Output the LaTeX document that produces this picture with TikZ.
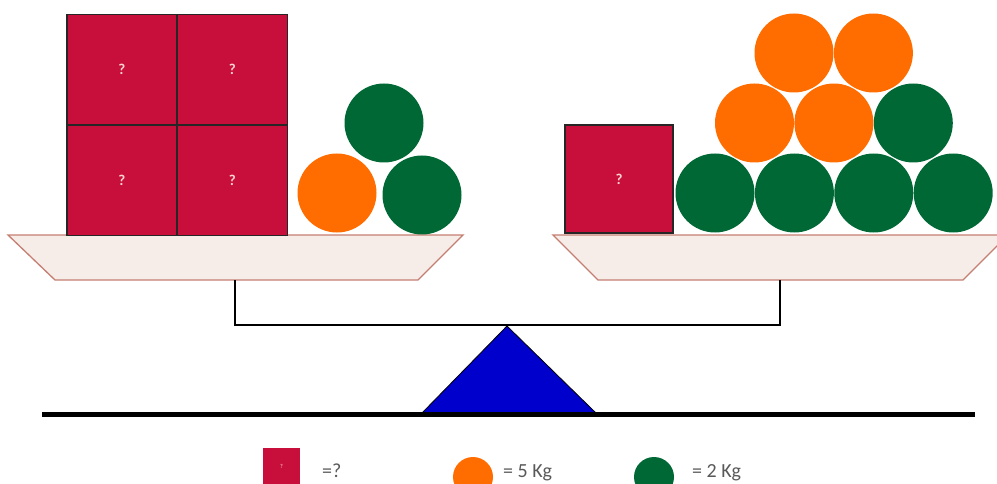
\documentclass[tikz,border=0pt]{standalone}
\usepackage{fontspec}
\setmainfont{Carlito}
\usetikzlibrary{positioning}

\definecolor{boxred}{RGB}{200,14,58}
\definecolor{ballorange}{RGB}{255,108,0}
\definecolor{ballgreen}{RGB}{0,104,52}
\definecolor{panfill}{RGB}{246,236,232}
\definecolor{panedge}{RGB}{196,126,114}
\definecolor{pivotblue}{RGB}{0,0,204}

\begin{document}
\begin{tikzpicture}[x=1pt,y=1pt,
    unknown/.style={draw=black!85,line width=1.2pt,fill=boxred,minimum width=109.5pt,minimum height=110pt,inner sep=0pt,text=pink!70,font=\bfseries\fontsize{15}{15}\selectfont},
    five/.style={circle,fill=ballorange,minimum size=79pt,inner sep=0pt},
    two/.style={circle,fill=ballgreen,minimum size=79pt,inner sep=0pt},
    pan/.style={draw=panedge,line width=1.3pt,fill=panfill},
    legend/.style={anchor=base west,inner sep=0pt,text=black!65,font=\fontsize{20}{20}\selectfont}]

    \useasboundingbox (0,0) rectangle (997,483);
    \clip (0,0) rectangle (997,483);

    % pans
    \draw[pan] (8,248) -- (463,248) -- (418,203) -- (55,203) -- cycle;
    \draw[pan] (553,248) -- (1008,248) -- (963,203) -- (598,203) -- cycle;
    \coordinate (lhook) at (235,203);
    \coordinate (rhook) at (780,203);
    \draw[line width=2.6pt] (lhook) |- (rhook |- 0,158) -- (rhook);

    % left pan
    \node[unknown] (ul) at (121.75,413.5) {?};
    \node[unknown,right=0pt of ul] (ur) {?};
    \node[unknown,below=0pt of ul] (ll) {?};
    \node[unknown,below=0pt of ur] (lr) {?};
    \node[five] (lo) at (337,290) {};
    \node[two]  (lg1) at (422,288) {};
    \node[two]  (lg2) at (384,360) {};

    % right pan
    \node[unknown,minimum width=108pt,minimum height=108pt] (rbox) at (619,304) {?};
    \node[two] (g1) at (715,290) {};
    \node[two,right=0pt of g1] (g2) {};
    \node[two,right=0pt of g2] (g3) {};
    \node[two,right=0pt of g3] (g4) {};
    \node[five] (o1) at (754.5,360) {};
    \node[five,right=0pt of o1] (o2) {};
    \node[two,right=0pt of o2] (g5) {};
    \node[five] (o3) at (794,430) {};
    \node[five,right=0pt of o3] (o4) {};

    % pivot and ground
    \coordinate (gl) at (42,69);
    \coordinate (gr) at (975,69);
    \node[coordinate] (apex) at (507,157) {};
    \draw[fill=pivotblue,line width=0.8pt] (421,69) -- (apex) -- (597,69) -- cycle;
    \draw[line width=5pt] (gl) -- (gr);

    % legend
    \node[fill=boxred,minimum size=37pt,inner sep=0pt,text=pink!60,font=\fontsize{6}{6}\selectfont] (keybox) at (281.5,16.5) {?};
    \node[legend] (keyq) at (322,6) {=?};
    \node[circle,fill=ballorange,minimum size=40pt,inner sep=0pt] (keyfive) at (473,6) {};
    \node[legend] (keyfivet) at (503,6) {= 5 Kg};
    \node[circle,fill=ballgreen,minimum size=40pt,inner sep=0pt] (keytwo) at (654,6) {};
    \node[legend] (keytwot) at (692,6) {= 2 Kg};
\end{tikzpicture}
\end{document}
